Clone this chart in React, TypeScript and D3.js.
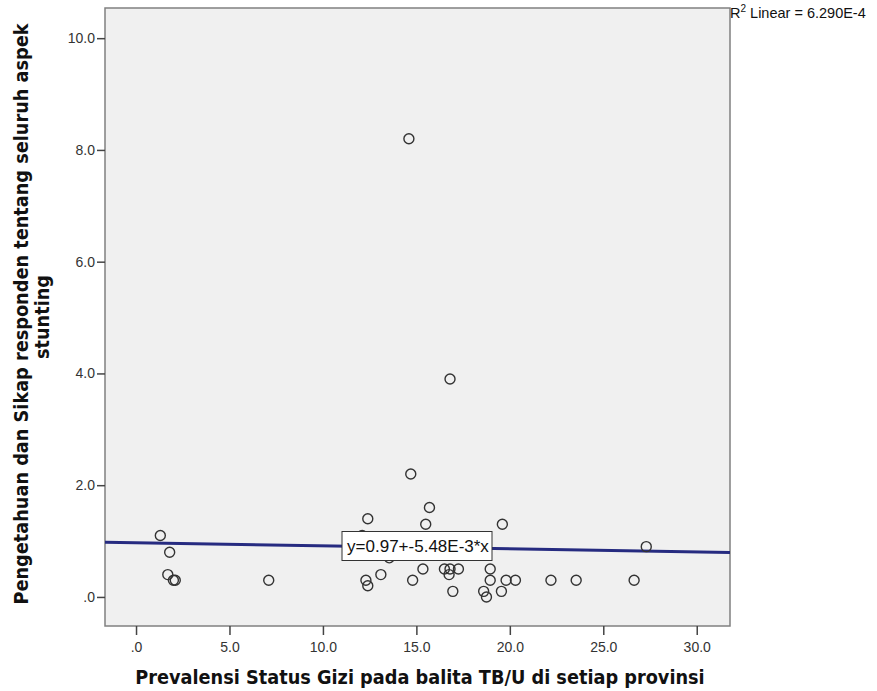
import React, { useEffect, useRef } from 'react';
import * as d3 from 'd3';

// Prevalensi (x) and Pengetahuan/Sikap (y) per province
const prevalensi = [
  1.3, 1.8, 1.7, 2.1, 2.0, 7.1, 12.4, 12.1, 12.3, 12.4, 13.1, 13.55,
  14.8, 15.35, 15.5, 15.7, 14.6, 14.7, 16.8, 19.6, 27.3, 16.5, 16.8, 17.25,
  16.75, 18.95, 18.95, 19.8, 20.3, 22.2, 23.55, 26.65, 16.95, 18.6, 18.75, 19.55,
];
const pengetahuan = [
  1.1, 0.8, 0.4, 0.3, 0.3, 0.3, 1.4, 1.1, 0.3, 0.2, 0.4, 0.7,
  0.3, 0.5, 1.3, 1.6, 8.2, 2.2, 3.9, 1.3, 0.9, 0.5, 0.5, 0.5,
  0.4, 0.5, 0.3, 0.3, 0.3, 0.3, 0.3, 0.3, 0.1, 0.1, 0.0, 0.1,
];
const xTicks = [0, 5, 10, 15, 20, 25, 30];
const yTicks = [0, 2, 4, 6, 8, 10];

// fit line reported in the chart
const intercept = 0.97;
const slope = -5.48e-3;
const fitLabel = 'y=0.97+-5.48E-3*x';
const r2Label = '6.290E-4';

const xTitle = 'Prevalensi Status Gizi pada balita TB/U di setiap provinsi';
const yTitleLines = ['Pengetahuan dan Sikap responden tentang seluruh aspek', 'stunting'];

const W = 877;
const H = 691;
const fmt = (v: number) => (v === 0 ? '.0' : v.toFixed(1));
const sans = '"Liberation Sans", Arial, sans-serif';
const titleFont = '"DejaVu Sans Condensed", "DejaVu Sans", Verdana, sans-serif';

const App: React.FC = () => {
  const svgRef = useRef<SVGSVGElement>(null);

  useEffect(() => {
    if (!svgRef.current) return;
    const svg = d3.select(svgRef.current);
    svg.selectAll('*').remove();

    const plot = { left: 105, top: 8, right: 730, bottom: 626 };

    const x = d3.scaleLinear().domain([-1.66, 31.78]).range([plot.left, plot.right]);
    const y = d3.scaleLinear().domain([-0.52, 10.54]).range([plot.bottom, plot.top]);

    svg.append('rect')
      .attr('x', plot.left)
      .attr('y', plot.top)
      .attr('width', plot.right - plot.left)
      .attr('height', plot.bottom - plot.top)
      .style('fill', '#f0f0f0')
      .style('stroke', '#808080')
      .style('stroke-width', 1.5);

    // axes
    const xAxis = svg.append('g')
      .attr('transform', `translate(0, ${plot.bottom})`)
      .call(d3.axisBottom(x).tickValues(xTicks).tickFormat(d => fmt(+d)).tickSize(9).tickPadding(7));
    const yAxis = svg.append('g')
      .attr('transform', `translate(${plot.left}, 0)`)
      .call(d3.axisLeft(y).tickValues(yTicks).tickFormat(d => fmt(+d)).tickSize(8).tickPadding(2));

    [xAxis, yAxis].forEach(a => {
      a.select('.domain').remove();
      a.selectAll('line').style('stroke', '#444').style('stroke-width', 1.5);
      a.selectAll('text')
        .style('font-family', sans)
        .style('font-size', '14px')
        .style('fill', '#333');
    });

    // fit line
    const [d0, d1] = x.domain();
    svg.append('line')
      .attr('x1', x(d0))
      .attr('y1', y(intercept + slope * d0))
      .attr('x2', x(d1))
      .attr('y2', y(intercept + slope * d1))
      .style('stroke', '#262b80')
      .style('stroke-width', 3);

    // points
    svg.append('g')
      .selectAll('circle')
      .data(prevalensi.map((v, i) => ({ px: v, py: pengetahuan[i] })))
      .enter()
      .append('circle')
      .attr('cx', d => x(d.px))
      .attr('cy', d => y(d.py))
      .attr('r', 5)
      .style('fill', 'none')
      .style('stroke', '#333')
      .style('stroke-width', 1.4);

    // fit label box
    const lx = 417;
    const ly = 546;
    svg.append('rect')
      .attr('x', lx - 75)
      .attr('y', ly - 14.5)
      .attr('width', 150)
      .attr('height', 29)
      .style('fill', '#fff')
      .style('stroke', '#333')
      .style('stroke-width', 1);
    svg.append('text')
      .attr('x', lx + 1)
      .attr('y', ly + 6)
      .attr('text-anchor', 'middle')
      .style('font-family', sans)
      .style('font-size', '17px')
      .style('fill', '#111')
      .text(fitLabel);

    // R2 note
    const r2 = svg.append('text')
      .attr('x', plot.right)
      .attr('y', 18)
      .style('font-family', sans)
      .style('font-size', '14.5px')
      .style('fill', '#111');
    r2.append('tspan').text('R');
    r2.append('tspan').attr('dy', -6).style('font-size', '10px').text('2');
    r2.append('tspan').attr('dy', 6).text(` Linear = ${r2Label}`);

    // axis titles
    svg.append('text')
      .attr('x', 420)
      .attr('y', 684)
      .attr('text-anchor', 'middle')
      .style('font-family', titleFont)
      .style('font-weight', 'bold')
      .style('font-size', '19.7px')
      .style('fill', '#111')
      .text(xTitle);

    yTitleLines.forEach((line, i) => {
      svg.append('text')
        .attr('transform', `translate(${28 + i * 21}, ${314 + i * 3}) rotate(-90)`)
        .attr('text-anchor', 'middle')
        .style('font-family', titleFont)
        .style('font-weight', 'bold')
        .style('font-size', '19.7px')
        .style('fill', '#111')
        .text(line);
    });
  }, []);

  return (
    <div style={{ position: 'absolute', left: 0, top: 0, background: '#fff' }}>
      <svg ref={svgRef} width={W} height={H} style={{ display: 'block' }} />
    </div>
  );
};

export default App;
